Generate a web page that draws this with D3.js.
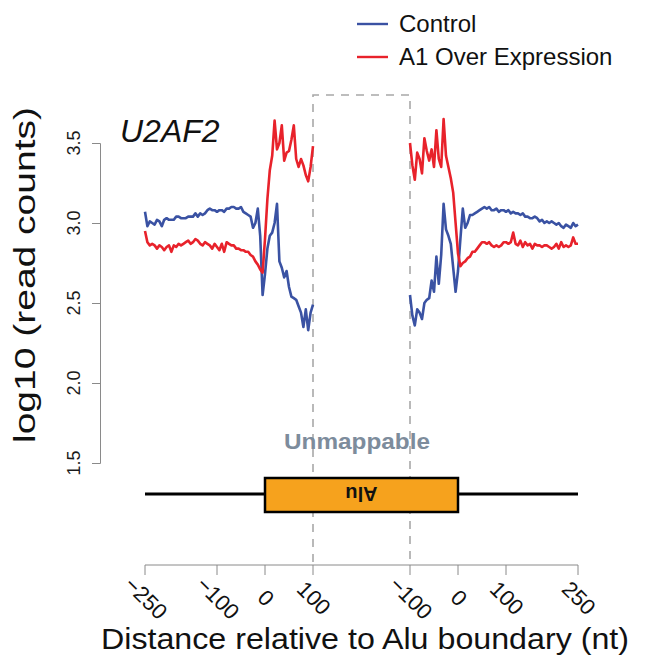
<!DOCTYPE html>
<html>
<head>
<meta charset="utf-8">
<script src="https://cdn.jsdelivr.net/npm/d3@7"></script>
<style>
  body { margin: 0; background: #fff; }
  text { font-family: "Liberation Sans", Arial, sans-serif; }
</style>
</head>
<body>
<svg id="chart" width="645" height="656"></svg>
<script>
// bin positions (nt) for the two flanks
var ntLeft = d3.range(-250, 101, 5);
var ntRight = d3.range(-100, 251, 5);

var controlLeft = [
  3.07, 2.98, 3.01, 3.00, 2.99, 3.02, 3.01, 2.98, 3.02, 3.03,
  3.02, 3.02, 3.02, 3.04, 3.04, 3.03, 3.03, 3.03, 3.04, 3.04,
  3.04, 3.06, 3.04, 3.06, 3.05, 3.06, 3.08, 3.09, 3.08, 3.08,
  3.07, 3.08, 3.08, 3.07, 3.09, 3.09, 3.10, 3.10, 3.09, 3.09,
  3.10, 3.07, 3.06, 3.05, 3.04, 2.97, 3.00, 3.09, 2.92, 2.55,
  2.68, 2.84, 2.92, 2.94, 3.00, 3.12, 2.76, 2.72, 2.66, 2.70,
  2.60, 2.54, 2.53, 2.52, 2.48, 2.44, 2.35, 2.46, 2.33, 2.44,
  2.49
];
var expressionLeft = [
  2.95, 2.88, 2.86, 2.87, 2.86, 2.84, 2.86, 2.85, 2.83, 2.85,
  2.86, 2.82, 2.86, 2.85, 2.87, 2.86, 2.87, 2.88, 2.89, 2.87,
  2.88, 2.90, 2.89, 2.87, 2.86, 2.88, 2.87, 2.86, 2.84, 2.87,
  2.85, 2.83, 2.87, 2.82, 2.88, 2.87, 2.86, 2.86, 2.84, 2.84,
  2.83, 2.83, 2.82, 2.82, 2.80, 2.79, 2.76, 2.74, 2.71, 2.69,
  2.90, 3.15, 3.33, 3.42, 3.64, 3.46, 3.50, 3.61, 3.39, 3.44,
  3.45, 3.52, 3.61, 3.40, 3.35, 3.40, 3.36, 3.30, 3.26, 3.35,
  3.48
];
var controlRight = [
  2.55, 2.42, 2.36, 2.46, 2.44, 2.40, 2.50, 2.52, 2.53, 2.64,
  2.57, 2.79, 2.62, 2.80, 3.12, 2.96, 2.92, 2.87, 2.72, 2.57,
  2.70, 2.90, 3.09, 2.97, 3.00, 3.05, 3.05, 3.06, 3.07, 3.08,
  3.09, 3.10, 3.09, 3.10, 3.08, 3.08, 3.09, 3.07, 3.08, 3.08,
  3.07, 3.08, 3.06, 3.07, 3.06, 3.06, 3.05, 3.06, 3.04, 3.04,
  3.03, 3.03, 3.04, 3.03, 3.01, 3.02, 3.00, 3.01, 3.00, 3.01,
  3.00, 2.99, 3.00, 2.98, 2.97, 2.99, 2.98, 2.97, 3.00, 2.98,
  2.99
];
var expressionRight = [
  3.50, 3.36, 3.27, 3.44, 3.40, 3.31, 3.53, 3.45, 3.39, 3.46,
  3.35, 3.58, 3.40, 3.35, 3.65, 3.42, 3.35, 3.28, 3.19, 3.00,
  2.81, 2.73, 2.75, 2.76, 2.78, 2.79, 2.82, 2.82, 2.84, 2.86,
  2.88, 2.88, 2.87, 2.88, 2.86, 2.85, 2.86, 2.85, 2.86, 2.88,
  2.88, 2.87, 2.88, 2.94, 2.87, 2.86, 2.89, 2.85, 2.88, 2.86,
  2.87, 2.84, 2.87, 2.86, 2.86, 2.85, 2.86, 2.86, 2.85, 2.84,
  2.85, 2.87, 2.84, 2.88, 2.85, 2.86, 2.85, 2.86, 2.91, 2.87,
  2.87
];

var yTicks = [1.5, 2.0, 2.5, 3.0, 3.5];
var xTicksLeft = [-250, -100, 0, 100];
var xTicksRight = [-100, 0, 100, 250];
var seriesNames = ["Control", "A1 Over Expression"];
var seriesColors = ["#3a52a3", "#e8222b"];

var svg = d3.select("#chart");

var xLeft = d3.scaleLinear().domain([-250, 100]).range([145, 313]);
var xRight = d3.scaleLinear().domain([-100, 250]).range([410, 578]);
var y = d3.scaleLinear().domain([1.5, 3.5]).range([463, 143]);

var axisGray = "#8a8a8a";

// unmappable region (dashed)
svg.append("path")
    .attr("d", "M" + xLeft(100) + "," + 562 + "V95H" + xRight(-100) + "V562")
    .attr("fill", "none")
    .attr("stroke", "#a8a8a8")
    .attr("stroke-width", 1.6)
    .attr("stroke-dasharray", "8,7");

svg.append("text")
    .text("Unmappable")
    .attr("x", 357)
    .attr("y", 449)
    .attr("text-anchor", "middle")
    .attr("font-size", 22)
    .attr("font-weight", "bold")
    .attr("textLength", 146)
    .attr("lengthAdjust", "spacingAndGlyphs")
    .attr("fill", "#7d8c9c");

// Alu element schematic
svg.append("line")
    .attr("x1", xLeft(-250)).attr("x2", xRight(250))
    .attr("y1", 494).attr("y2", 494)
    .attr("stroke", "#000").attr("stroke-width", 3);
svg.append("rect")
    .attr("x", xLeft(0)).attr("y", 478)
    .attr("width", xRight(0) - xLeft(0)).attr("height", 34)
    .attr("fill", "#f6a21d")
    .attr("stroke", "#000").attr("stroke-width", 2.5);
svg.append("text")
    .text("Alu")
    .attr("transform", "translate(" + ((xLeft(0) + xRight(0)) / 2) + ",494) rotate(180)")
    .attr("text-anchor", "middle")
    .attr("dy", "0.36em")
    .attr("font-size", 20)
    .attr("font-weight", "bold")
    .attr("fill", "#111");

// y axis
var yAxis = svg.append("g").attr("transform", "translate(100,0)")
    .call(d3.axisLeft(y).tickValues(yTicks).tickSize(8).tickFormat(""));
yAxis.select(".domain").attr("stroke", axisGray);
yAxis.selectAll(".tick line").attr("stroke", axisGray);

svg.selectAll(".ylab").data(yTicks).enter().append("text")
    .attr("class", "ylab")
    .text(function(d){ return d3.format(".1f")(d); })
    .attr("transform", function(d){ return "translate(80," + y(d) + ") rotate(-90)"; })
    .attr("text-anchor", "middle")
    .attr("font-size", 18)
    .attr("fill", "#1a1a1a");

svg.append("text")
    .text("log10 (read counts)")
    .attr("transform", "translate(35,275) rotate(-90)")
    .attr("text-anchor", "middle")
    .attr("font-size", 30)
    .attr("textLength", 336)
    .attr("lengthAdjust", "spacingAndGlyphs")
    .attr("fill", "#111");

// x axis (two flanks on one line)
svg.append("line")
    .attr("x1", xLeft(-250)).attr("x2", xRight(250))
    .attr("y1", 565).attr("y2", 565)
    .attr("stroke", axisGray);

var xTickData = xTicksLeft.map(function(d){ return {v: d, x: xLeft(d)}; })
    .concat(xTicksRight.map(function(d){ return {v: d, x: xRight(d)}; }));

svg.selectAll(".xtick").data(xTickData).enter().append("line")
    .attr("class", "xtick")
    .attr("x1", function(d){ return d.x; }).attr("x2", function(d){ return d.x; })
    .attr("y1", 565).attr("y2", 575)
    .attr("stroke", axisGray);

svg.selectAll(".xlab").data(xTickData).enter().append("text")
    .attr("class", "xlab")
    .text(function(d){ return d.v < 0 ? "\u2212" + Math.abs(d.v) : d.v; })
    .attr("transform", function(d){ return "translate(" + (d.x + 1) + ",598) rotate(45)"; })
    .attr("text-anchor", "middle")
    .attr("dy", "0.35em")
    .attr("font-size", 22)
    .attr("fill", "#111");

svg.append("text")
    .text("Distance relative to Alu boundary (nt)")
    .attr("x", 101)
    .attr("y", 649)
    .attr("font-size", 29)
    .attr("textLength", 528)
    .attr("lengthAdjust", "spacingAndGlyphs")
    .attr("fill", "#111");

// profile lines
var lineLeft = d3.line()
    .x(function(d, i){ return xLeft(ntLeft[i]); })
    .y(function(d){ return y(d); });
var lineRight = d3.line()
    .x(function(d, i){ return xRight(ntRight[i]); })
    .y(function(d){ return y(d); });

var profiles = [
  {vals: controlLeft, line: lineLeft, c: 0},
  {vals: controlRight, line: lineRight, c: 0},
  {vals: expressionLeft, line: lineLeft, c: 1},
  {vals: expressionRight, line: lineRight, c: 1}
];
profiles.forEach(function(p){
  svg.append("path")
      .attr("d", p.line(p.vals))
      .attr("fill", "none")
      .attr("stroke", seriesColors[p.c])
      .attr("stroke-width", 2.6)
      .attr("stroke-linejoin", "round");
});

svg.append("text")
    .text("U2AF2")
    .attr("x", 120)
    .attr("y", 142)
    .attr("font-size", 32)
    .attr("font-style", "italic")
    .attr("fill", "#111");

// legend
var legend = svg.selectAll(".leg").data(seriesNames).enter().append("g")
    .attr("transform", function(d, i){ return "translate(0," + (i * 33) + ")"; });
legend.append("line")
    .attr("x1", 357).attr("x2", 388)
    .attr("y1", 24).attr("y2", 24)
    .attr("stroke", function(d, i){ return seriesColors[i]; })
    .attr("stroke-width", 2.4);
legend.append("text")
    .text(function(d){ return d; })
    .attr("x", 399)
    .attr("y", 32)
    .attr("font-size", 24)
    .attr("fill", "#111");
</script>
</body>
</html>
